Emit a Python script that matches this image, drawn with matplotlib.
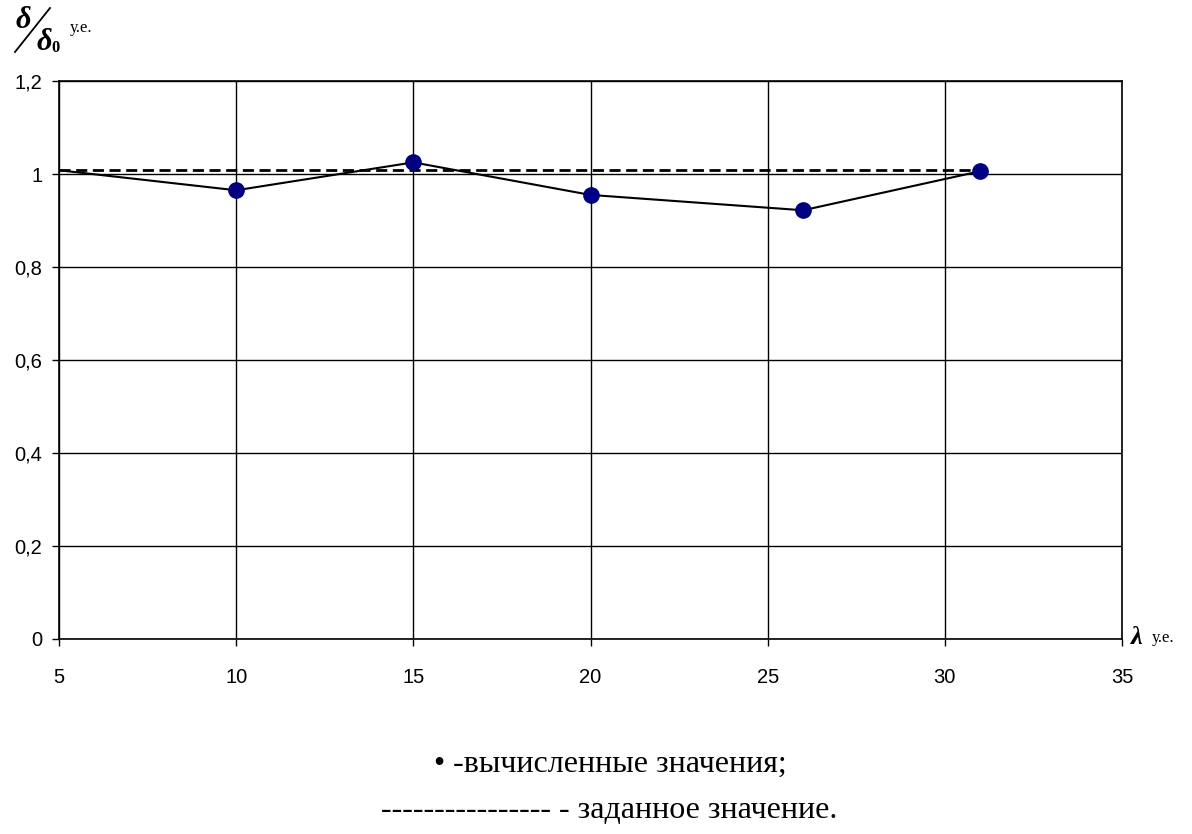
import numpy as np
import matplotlib.pyplot as plt
from matplotlib.lines import Line2D

# computed values delta/delta0 vs lambda
lam = [5, 10, 15, 20, 26, 31]
ratio = [1.008, 0.965, 1.025, 0.955, 0.922, 1.006]
# given value
lam_set = [5, 31]
ratio_set = [1.008, 1.008]

xticks = [5, 10, 15, 20, 25, 30, 35]
yticks = [0, 0.2, 0.4, 0.6, 0.8, 1.0, 1.2]
ylabels = ['0', '0,2', '0,4', '0,6', '0,8', '1', '1,2']

W, H = 1192, 834
fig = plt.figure(figsize=(11.92, 8.34), dpi=100)
ax = fig.add_axes([59/W, 1-639/H, (1122-59)/W, (639-81)/H])

ax.plot(lam_set, ratio_set, color='black', lw=2, ls=(0, (4, 2)), zorder=3)
ax.plot(lam, ratio, color='black', lw=1.5, zorder=4)
ax.plot(lam[1:], ratio[1:], 'o', color='#000080', ms=11, zorder=5)

ax.set_xlim(5, 35)
ax.set_ylim(0, 1.2)
ax.set_xticks(xticks)
ax.set_yticks(yticks)
ax.set_yticklabels(ylabels)
ax.grid(True, color='black', lw=1)
ax.set_axisbelow(True)
for s in ax.spines.values():
    s.set_color('black')
    s.set_linewidth(1.2)
ax.tick_params(direction='out', length=5, width=1, color='black', labelsize=14.5)
ax.tick_params(axis='x', pad=16)
ax.tick_params(axis='y', pad=7)
for lbl in ax.get_xticklabels() + ax.get_yticklabels():
    lbl.set_family('Liberation Sans')

# y axis label: delta / delta0
serif = 'Liberation Serif'
fig.text(23/W, 1-20/H, 'δ', fontsize=22, family=serif, weight='bold',
         style='italic', ha='center', va='center')
fig.add_artist(Line2D([15/W, 50/W], [1-52/H, 1-8/H], color='black', lw=1.3,
                      transform=fig.transFigure))
fig.text(44/W, 1-42/H, 'δ', fontsize=22, family=serif, weight='bold',
         style='italic', ha='center', va='center')
fig.text(56/W, 1-48/H, '0', fontsize=12, family=serif, weight='bold',
         ha='center', va='center')
fig.text(70/W, 1-28/H, 'у.е.', fontsize=12, family=serif,
         ha='left', va='center')

# x axis label: lambda
fig.text(1137/W, 1-638/H, 'λ', fontsize=19, family=serif, weight='bold',
         style='italic', ha='center', va='center')
fig.text(1152/W, 1-638/H, 'у.е.', fontsize=12, family=serif,
         ha='left', va='center')

# legend as text
fig.text(610/W, 1-764/H, '• -вычисленные значения;', fontsize=23,
         family=serif, ha='center', va='center')
fig.text(609/W, 1-811/H, '---------------- - заданное значение.', fontsize=23,
         family=serif, ha='center', va='center')

plt.savefig('out.png', dpi=100)
